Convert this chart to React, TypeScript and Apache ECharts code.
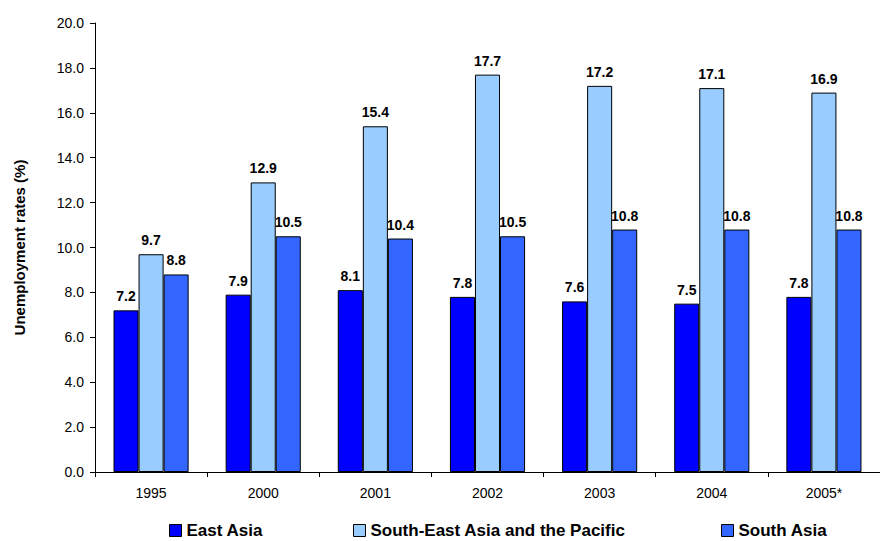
import React, { useEffect, useRef } from "react";
import * as echarts from "echarts";

const years = ["1995", "2000", "2001", "2002", "2003", "2004", "2005*"];
const eastAsia = [7.2, 7.9, 8.1, 7.8, 7.6, 7.5, 7.8];
const seAsiaPacific = [9.7, 12.9, 15.4, 17.7, 17.2, 17.1, 16.9];
const southAsia = [8.8, 10.5, 10.4, 10.5, 10.8, 10.8, 10.8];
const seriesNames = ["East Asia", "South-East Asia and the Pacific", "South Asia"];
const colors = ["#0000FF", "#99CCFF", "#3366FF"];

const FONT = "'Liberation Sans', Arial, sans-serif";

export default function App() {
  const ref = useRef<HTMLDivElement>(null);
  useEffect(() => {
    if (!ref.current) return;
    const chart = echarts.init(ref.current, undefined, { renderer: "svg" });
    const values = [eastAsia, seAsiaPacific, southAsia];
    const legendLefts = [169, 353, 721];
    chart.setOption({
      animation: false,
      backgroundColor: "#ffffff",
      textStyle: { fontFamily: FONT },
      grid: { left: 95, top: 23, width: 796, height: 449, containLabel: false },
      legend: seriesNames.map((n, i) => ({
        data: [n],
        left: legendLefts[i],
        top: 522,
        icon: "rect",
        itemWidth: 12,
        itemHeight: 12,
        itemGap: 0,
        padding: 0,
        textStyle: { fontFamily: FONT, fontSize: 17, fontWeight: "bold", color: "#000" },
        itemStyle: { borderColor: "#000", borderWidth: 1 },
      })),
      xAxis: {
        type: "category",
        data: years,
        axisLine: { lineStyle: { color: "#000", width: 1 } },
        axisTick: { show: true, length: 5, lineStyle: { color: "#000" } },
        axisLabel: { color: "#000", fontSize: 14, fontFamily: FONT, margin: 14 },
      },
      yAxis: {
        type: "value",
        min: 0,
        max: 20,
        interval: 2,
        name: "Unemployment rates (%)",
        nameLocation: "middle",
        nameGap: 68,
        nameTextStyle: { fontFamily: FONT, fontSize: 15, fontWeight: "bold", color: "#000" },
        axisLine: { show: true, lineStyle: { color: "#000", width: 1 } },
        axisTick: { show: true, length: 5, lineStyle: { color: "#000" } },
        axisLabel: {
          color: "#000",
          fontSize: 14,
          fontFamily: FONT,
          margin: 11,
          formatter: (v: number) => v.toFixed(1),
        },
        splitLine: { show: false },
      },
      series: seriesNames.map((n, i) => ({
        name: n,
        type: "bar",
        data: values[i],
        barGap: "0%",
        barCategoryGap: "33%",
        itemStyle: { color: colors[i], borderColor: "#000", borderWidth: 1 },
        label: {
          show: true,
          position: "top",
          distance: 7,
          color: "#000",
          fontSize: 14,
          fontWeight: "bold",
          fontFamily: FONT,
          formatter: (p: any) => Number(p.value).toFixed(1),
        },
      })),
    });
    return () => chart.dispose();
  }, []);
  return <div ref={ref} style={{ width: 880, height: 541, position: "absolute", left: 0, top: 0 }} />;
}
